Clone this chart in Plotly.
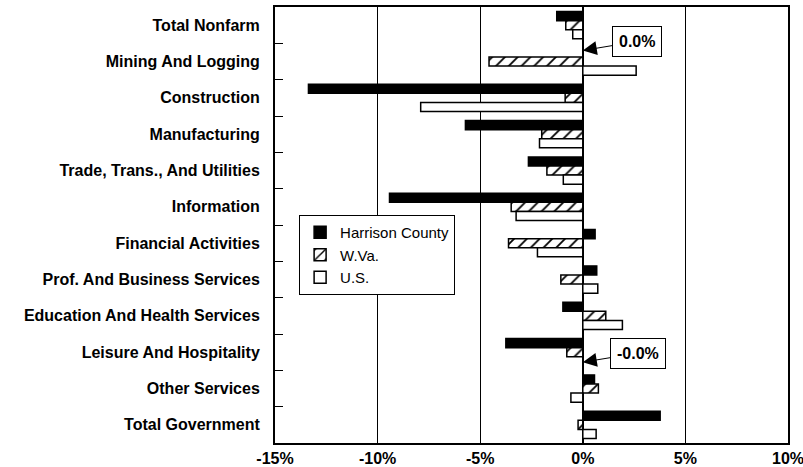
import plotly.graph_objects as go

categories = ["Total Nonfarm", "Mining And Logging", "Construction", "Manufacturing",
              "Trade, Trans., And Utilities", "Information", "Financial Activities",
              "Prof. And Business Services", "Education And Health Services",
              "Leisure And Hospitality", "Other Services", "Total Government"]
harrison = [-1.27, 0.0, -13.37, -5.72, -2.65, -9.42, 0.60, 0.68, -0.97, -3.75, 0.57, 3.77]
wva = [-0.83, -4.57, -0.86, -2.00, -1.75, -3.49, -3.62, -1.07, 1.12, -0.78, 0.76, -0.23]
us = [-0.49, 2.60, -7.90, -2.11, -0.95, -3.25, -2.21, 0.73, 1.93, -0.0, -0.58, 0.65]
series_names = ["Harrison County", "W.Va.", "U.S."]
tick_vals = [-15, -10, -5, 0, 5, 10]
tick_text = ["-15%", "-10%", "-5%", "0%", "5%", "10%"]

FONT = "Arial, 'Liberation Sans', sans-serif"

fig = go.Figure()
fig.add_trace(go.Bar(y=categories, x=harrison, orientation="h", name=series_names[0],
                     marker=dict(color="black", line=dict(color="black", width=1.5))))
fig.add_trace(go.Bar(y=categories, x=wva, orientation="h", name=series_names[1],
                     marker=dict(color="white", line=dict(color="black", width=1.5),
                                 pattern=dict(shape="/", fgcolor="black", bgcolor="white",
                                              size=9, solidity=0.2, fgopacity=1))))
fig.add_trace(go.Bar(y=categories, x=us, orientation="h", name=series_names[2],
                     marker=dict(color="white", line=dict(color="black", width=1.5))))

ann_common = dict(xref="x", yref="y", showarrow=True, arrowhead=2, arrowsize=2.8,
                  arrowwidth=1, arrowcolor="black", axref="pixel", ayref="pixel",
                  bordercolor="black", borderwidth=1, borderpad=6, bgcolor="white",
                  font=dict(family=FONT, size=16, color="black"))
fig.add_annotation(x=harrison[1], y=categories[1], yshift=11, text="<b>0.0%</b>",
                   ax=54, ay=-9, **ann_common)
fig.add_annotation(x=us[9], y=categories[9], yshift=-10, text="<b>-0.0%</b>",
                   ax=55, ay=-9, **ann_common)

fig.update_layout(
    width=803, height=467,
    margin=dict(l=275, r=15, t=7, b=24, autoexpand=False),
    paper_bgcolor="white", plot_bgcolor="white",
    barmode="group", bargap=0.25, bargroupgap=0,
    font=dict(family=FONT, size=16, color="black"),
    showlegend=True,
    legend=dict(x=0.047, y=0.523, xanchor="left", yanchor="top",
                bordercolor="black", borderwidth=1, bgcolor="white",
                font=dict(family=FONT, size=15, color="black"),
                tracegroupgap=0, itemwidth=30),
    xaxis=dict(range=[-15, 10.0001], tickvals=tick_vals, ticktext=["<b>%s</b>" % t for t in tick_text],
               showgrid=True, gridcolor="black", gridwidth=1, automargin=False,
               ticklabeloverflow="allow",
               zeroline=True, zerolinecolor="black", zerolinewidth=1.5,
               showline=True, linecolor="black", linewidth=2, mirror=True,
               ticks="", tickfont=dict(family=FONT, size=16, color="black")),
    yaxis=dict(categoryorder="array", categoryarray=categories, autorange="reversed",
               tickvals=categories, ticktext=["<b>%s</b>" % c for c in categories],
               tickson="boundaries", ticks="inside", ticklen=8, tickcolor="black",
               showline=True, linecolor="black", linewidth=2, mirror=True,
               showgrid=False, ticklabelstandoff=10, automargin=False,
               tickfont=dict(family=FONT, size=16, color="black")),
)

fig.write_html("out.html", config={"displayModeBar": False},
               post_script="document.body.style.margin='0';document.body.style.overflow='hidden';")
